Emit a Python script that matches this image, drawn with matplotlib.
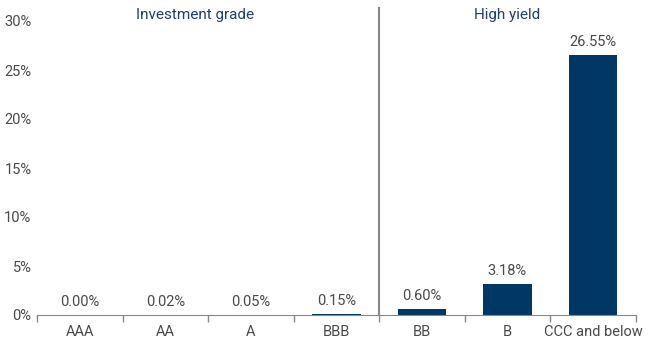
import matplotlib.pyplot as plt
import numpy as np

categories = ["AAA", "AA", "A", "BBB", "BB", "B", "CCC and below"]
values = [0.00, 0.02, 0.05, 0.15, 0.60, 3.18, 26.55]
yticks = [0, 5, 10, 15, 20, 25, 30]
groups = ["Investment grade", "High yield"]

plt.rcParams['font.family'] = ['Roboto', 'DejaVu Sans']
fig = plt.figure(figsize=(6.5, 3.5), dpi=100)
ax = fig.add_axes([0.057, 0.1, 0.921, 0.84])

bar_color = "#003764"
text_color = "#4a4a4a"
fs = 10.5
x = np.arange(len(categories))
ax.bar(x, values, width=0.57, color=bar_color)
for xi, v in zip(x, values):
    ax.text(xi, v + 0.6, f"{v:.2f}%", ha="center", va="bottom", fontsize=fs, color=text_color)

ax.set_xlim(-0.5, len(categories) - 0.5)
ax.set_ylim(0, 30)
ax.set_yticks(yticks)
ax.set_yticklabels([f"{t}%" for t in yticks], fontsize=fs, color=text_color)
ax.tick_params(axis="y", length=0, pad=4)
ax.set_xticks(x)
ax.set_xticklabels(categories, fontsize=fs, color=text_color)
ax.tick_params(axis="x", length=0, pad=7)
ax.set_xticks(np.arange(-0.5, len(categories)), minor=True)
ax.tick_params(axis="x", which="minor", length=5, color="#888888", width=1)

for s in ["top", "right", "left"]:
    ax.spines[s].set_visible(False)
ax.spines["bottom"].set_color("#888888")

ax.plot([3.5, 3.5], [0, 31.3], color="#888888", lw=1.5, clip_on=False)
ax.text(1.35, 30.6, groups[0], ha="center", va="center", fontsize=11, color="#1f3f6e")
ax.text(5.0, 30.6, groups[1], ha="center", va="center", fontsize=11, color="#1f3f6e")

fig.savefig("out.png", dpi=100)
